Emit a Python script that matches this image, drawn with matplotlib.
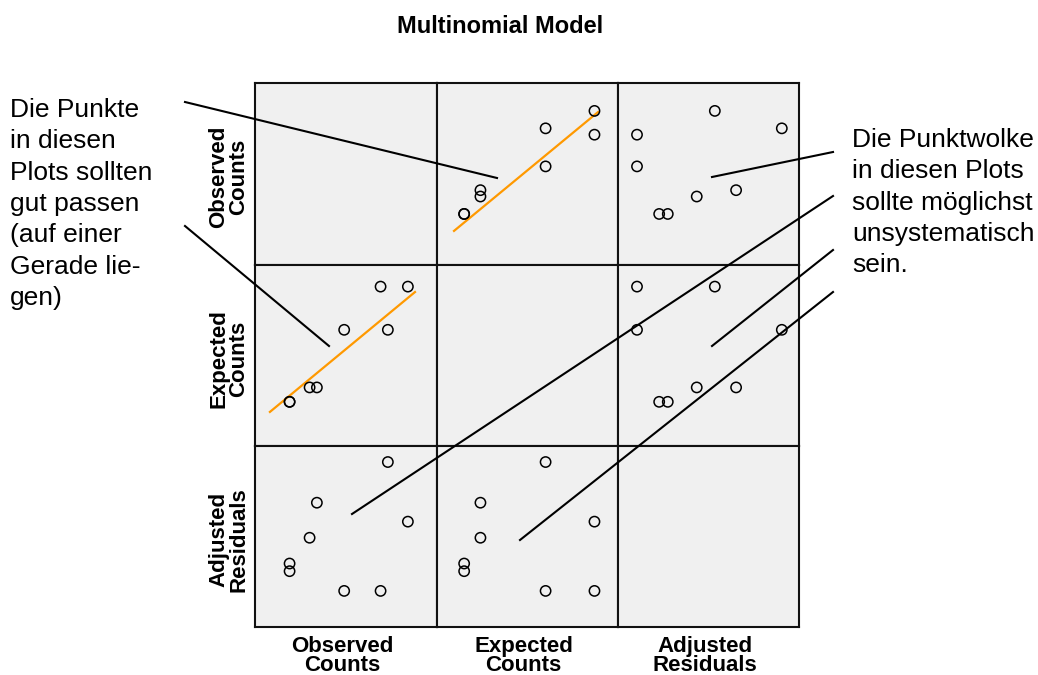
import matplotlib.pyplot as plt
from matplotlib.lines import Line2D

plt.rcParams['font.family'] = ['Liberation Sans', 'DejaVu Sans']

# variables of the scatter matrix
labels = ['Observed\nCounts', 'Expected\nCounts', 'Adjusted\nResiduals']

observed = [84, 73, 69, 49, 34, 30, 19, 19]
expected = [87, 60, 87, 60, 24, 24, 15, 15]
residuals = [0.14, 1.62, -1.58, -1.58, 0.61, -0.26, -1.09, -0.90]

# orange reference lines (observed vs expected panels)
ref_expected = [9.4, 89.0]
ref_observed = [8.3, 83.3]
ref2_observed = [8.2, 87.9]
ref2_expected = [8.7, 83.6]

note_left = ['Die Punkte', 'in diesen', 'Plots sollten', 'gut passen',
             '(auf einer', 'Gerade lie-', 'gen)']
note_right = ['Die Punktwolke', 'in diesen Plots', 'sollte möglichst',
              'unsystematisch', 'sein.']

data = [observed, expected, residuals]
xlims = [(0, 100), (0, 100), (-2, 2)]
ylims = [(-13.2, 101.6), (-12.6, 100.5), (-2.476, 2.018)]

W, H = 1038, 675
fig = plt.figure(figsize=(W / 100, H / 100), dpi=100)


def fx(x):
    return x / W


def fy(y):
    return 1 - y / H


col_x = [255, 437, 618, 799]
row_y = [83, 265, 446, 627]

axes = {}
for i in range(3):
    for j in range(3):
        ax = fig.add_axes([fx(col_x[j]), fy(row_y[i + 1]),
                           (col_x[j + 1] - col_x[j]) / W,
                           (row_y[i + 1] - row_y[i]) / H])
        ax.set_facecolor('#f0f0f0')
        ax.set_xlim(xlims[j])
        ax.set_ylim(ylims[i])
        ax.set_xticks([])
        ax.set_yticks([])
        for s in ax.spines.values():
            s.set_linewidth(1.5)
            s.set_color('#111111')
        if i != j:
            ax.scatter(data[j], data[i], s=55, facecolors='none',
                       edgecolors='black', linewidths=1.1, zorder=3)
        axes[(i, j)] = ax

axes[(0, 1)].plot(ref_expected, ref_observed, color='#ff9900', lw=1.6, zorder=2)
axes[(1, 0)].plot(ref2_observed, ref2_expected, color='#ff9900', lw=1.6, zorder=2)

# column labels below, row labels on the left
for k, lab in enumerate(labels):
    cx = (col_x[k] + col_x[k + 1]) / 2
    fig.text(fx(cx - 4), fy(636), lab, ha='center', va='top', fontsize=16,
             fontweight='bold', linespacing=0.88)
    cy = (row_y[k] + row_y[k + 1]) / 2
    fig.text(fx(229), fy(cy + 3), lab, ha='center', va='center', rotation=90,
             fontsize=16, fontweight='bold', linespacing=0.95)

fig.text(fx(500), fy(33), 'Multinomial Model', ha='center', va='baseline',
         fontsize=17, fontweight='bold')

for k, line in enumerate(note_left):
    fig.text(fx(10), fy(117 + 31.3 * k), line, ha='left', va='baseline',
             fontsize=19)
for k, line in enumerate(note_right):
    fig.text(fx(852), fy(147 + 31.3 * k), line, ha='left', va='baseline',
             fontsize=19)

# leader lines from the notes into the panels
leaders = [((185, 102), (497, 178)),
           ((185, 226), (329, 346)),
           ((833, 152), (712, 177)),
           ((833, 196), (352, 514)),
           ((833, 250), (712, 346)),
           ((833, 292), (520, 540))]
for (x0, y0), (x1, y1) in leaders:
    fig.add_artist(Line2D([fx(x0), fx(x1)], [fy(y0), fy(y1)],
                          color='black', lw=1.5, zorder=10))

fig.savefig('out.png', dpi=100)
